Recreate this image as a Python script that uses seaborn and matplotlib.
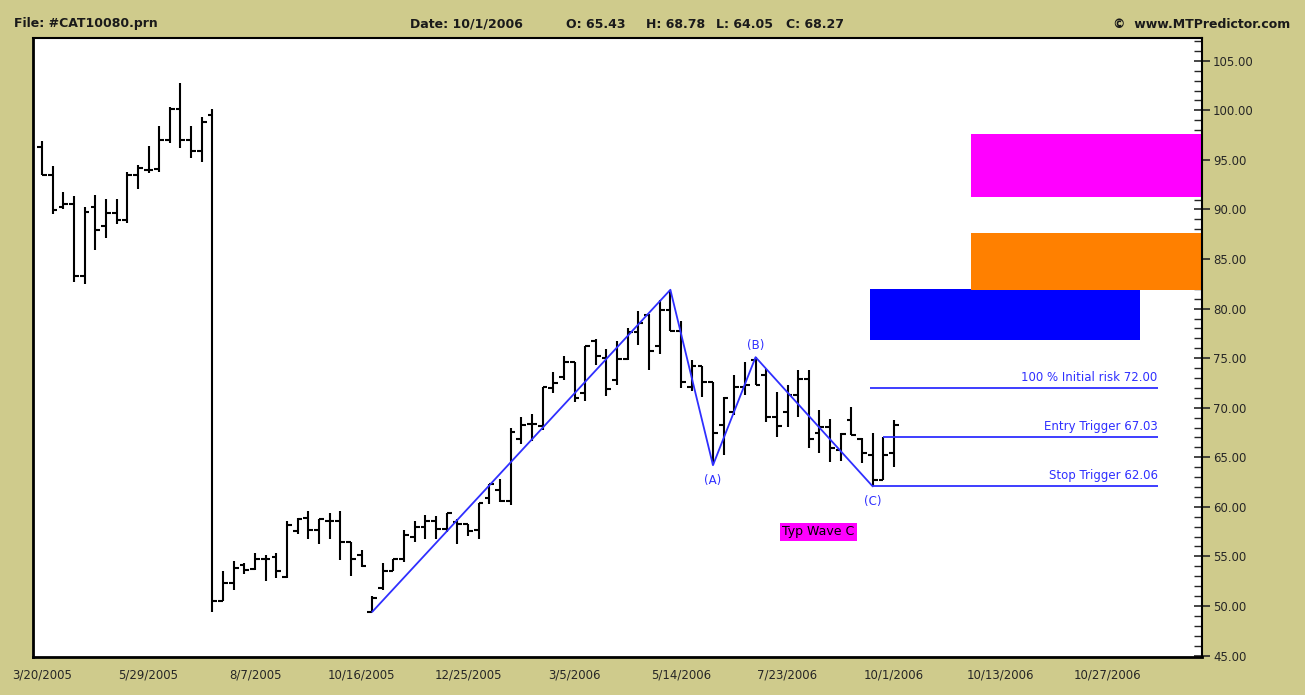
import matplotlib
matplotlib.use("Agg")
import matplotlib.pyplot as plt
from matplotlib.ticker import MultipleLocator, FixedLocator, FormatStrFormatter
import seaborn as sns
import numpy as np

# weekly OHLC bars, index 0 = 3/20/2005
opens = [96.3, 93.5, 90.2, 90.6, 83.3, 90.3, 88.3, 89.6, 88.9, 93.5,
         94.0, 94.1, 97.0, 100.1, 97.0, 95.9, 99.5, 50.5, 52.3, 54.1,
         53.7, 54.7, 54.9, 52.9, 57.6, 58.9, 57.7, 58.6, 58.6, 56.5,
         55.1, 49.4, 51.8, 53.5, 54.7, 57.0, 58.0, 58.6, 57.8, 58.5,
         58.3, 57.7, 60.9, 61.7, 60.6, 66.8, 68.4, 68.2, 72.0, 73.1,
         74.6, 71.5, 76.7, 75.0, 72.8, 74.9, 77.6, 79.4, 76.2, 79.9,
         77.7, 72.1, 74.2, 72.6, 68.3, 69.6, 72.1, 74.8, 73.3, 69.1,
         69.6, 71.3, 72.9, 67.4, 68.1, 65.7, 68.8, 66.8, 65.2, 62.7,
         65.43]
highs = [96.9, 94.4, 91.8, 91.4, 90.3, 91.5, 91.1, 91.1, 93.8, 94.5,
         96.4, 98.4, 100.3, 102.8, 98.4, 99.3, 100.1, 53.5, 54.5, 54.3,
         55.3, 55.1, 55.3, 58.6, 58.9, 59.6, 58.8, 59.4, 59.6, 56.5,
         55.6, 51.0, 54.3, 54.7, 57.7, 58.6, 59.2, 59.1, 59.4, 58.8,
         58.3, 60.4, 62.3, 62.8, 68.0, 69.1, 69.4, 72.1, 73.6, 75.2,
         74.6, 76.2, 76.9, 75.9, 76.7, 78.0, 79.8, 79.5, 80.9, 81.9,
         78.7, 74.8, 74.2, 72.6, 71.1, 73.3, 74.6, 75.1, 73.9, 71.6,
         72.3, 73.8, 73.8, 69.8, 68.9, 67.4, 70.1, 66.9, 67.4, 67.03,
         68.78]
lows = [93.5, 89.5, 90.0, 82.7, 82.5, 85.9, 87.1, 88.5, 88.6, 92.1,
        93.7, 93.8, 96.7, 96.2, 95.2, 94.8, 49.4, 50.5, 51.6, 53.2,
        53.6, 52.5, 52.8, 52.8, 57.3, 56.8, 56.2, 56.8, 54.6, 53.0,
        53.9, 49.4, 51.6, 53.5, 54.4, 56.5, 56.8, 56.8, 57.5, 56.3,
        57.1, 56.8, 60.3, 60.5, 60.2, 66.3, 66.6, 67.8, 71.5, 72.8,
        70.6, 70.7, 74.3, 71.2, 72.3, 74.8, 76.3, 73.8, 75.4, 77.7,
        72.0, 71.7, 71.1, 64.2, 65.2, 69.3, 71.3, 72.3, 68.6, 67.0,
        68.1, 69.1, 65.9, 65.4, 64.5, 64.6, 67.2, 64.4, 62.06, 62.7,
        64.05]
closes = [93.5, 89.9, 90.6, 83.3, 89.7, 87.9, 89.6, 88.9, 93.5, 94.2,
          94.0, 97.0, 100.1, 97.0, 95.9, 98.8, 50.5, 52.3, 53.8, 53.6,
          54.7, 54.7, 53.5, 58.2, 58.8, 57.7, 58.8, 58.6, 56.5, 54.7,
          54.0, 50.8, 53.5, 54.7, 57.2, 58.0, 58.6, 57.8, 59.4, 58.3,
          57.6, 60.4, 62.3, 60.6, 67.5, 68.3, 68.4, 72.1, 72.5, 74.6,
          71.0, 76.2, 75.2, 71.9, 74.9, 77.6, 78.5, 75.7, 79.9, 77.7,
          72.6, 74.2, 72.6, 67.4, 71.0, 72.1, 72.3, 72.3, 69.1, 68.2,
          71.3, 72.9, 66.8, 68.1, 65.9, 67.3, 67.2, 65.4, 62.7, 65.2,
          68.27]

tick_pos = [0, 10, 20, 30, 40, 50, 60, 70, 80, 90, 100]
tick_labels = ["3/20/2005", "5/29/2005", "8/7/2005", "10/16/2005", "12/25/2005",
               "3/5/2006", "5/14/2006", "7/23/2006", "10/1/2006", "10/13/2006",
               "10/27/2006"]

# ABC wave pivots
wave_x = [31, 59, 63, 67, 78]
wave_y = [49.4, 81.9, 64.2, 75.1, 62.06]
wave_names = ["", "", "(A)", "(B)", "(C)"]

# trade levels
level_prices = [72.00, 67.03, 62.06]
level_starts = [77.75, 79, 78]
level_labels = ["100 % Initial risk 72.00", "Entry Trigger 67.03", "Stop Trigger 62.06"]
level_end = 104.75

# target zones
zone_x0 = [77.75, 87.26, 87.26]
zone_x1 = [103.1, 108.92, 108.92]
zone_lo = [76.8, 81.9, 91.3]
zone_hi = [82.0, 87.6, 97.6]
zone_colors = ["#0000FF", "#FF8000", "#FF00FF"]

# header fields
header_items = ["Date: 10/1/2006", "O: 65.43", "H: 68.78", "L: 64.05", "C: 68.27"]
header_x = [410, 566, 646, 716, 786]

bg = "#CFCB8C"
blue = "#2F2FFF"

sns.set_style("white")
plt.rcParams["font.family"] = ["DejaVu Sans"]

fig = plt.figure(figsize=(13.05, 6.95), dpi=100, facecolor=bg)
ax = fig.add_axes([33 / 1305, 1 - 657 / 695, (1202 - 33) / 1305, (657 - 38) / 695])
ax.set_facecolor("white")

x = np.arange(len(opens))
ax.vlines(x, lows, highs, color="black", lw=1.5, zorder=3)
ax.hlines(opens, x - 0.45, x, color="black", lw=1.5, zorder=3)
ax.hlines(closes, x, x + 0.45, color="black", lw=1.5, zorder=3)

# zones
for x0, x1, lo, hi, c in zip(zone_x0, zone_x1, zone_lo, zone_hi, zone_colors):
    ax.fill_between([x0, x1], lo, hi, color=c, lw=0, zorder=1)

# wave
sns.lineplot(x=wave_x, y=wave_y, sort=False, estimator=None, color=blue, lw=1.3, ax=ax, zorder=4)
for wx, wy, name in zip(wave_x, wave_y, wave_names):
    if not name:
        continue
    if name == "(B)":
        ax.annotate(name, (wx, wy), xytext=(0, 4), textcoords="offset points",
                    ha="center", va="bottom", color=blue, fontsize=8.5)
    else:
        ax.annotate(name, (wx, wy), xytext=(0, -6), textcoords="offset points",
                    ha="center", va="top", color=blue, fontsize=8.5)

# levels
for p, s, lab in zip(level_prices, level_starts, level_labels):
    ax.hlines(p, s, level_end, color=blue, lw=1.3, zorder=4)
    ax.text(level_end, p + 0.4, lab, ha="right", va="bottom", color=blue, fontsize=8.5)

ax.text(72.9, 57.5, "Typ Wave C", ha="center", va="center", fontsize=9, color="black",
        bbox=dict(boxstyle="square,pad=0.2", fc="#FF00FF", ec="none"))

ax.set_xlim(-0.85, 108.92)

ax.xaxis.set_major_locator(FixedLocator(tick_pos))
ax.set_xticklabels(tick_labels, fontsize=8.5)
ax.tick_params(axis="x", direction="inout", length=12, width=1.2, color="black", pad=2)

ax.yaxis.tick_right()
ax.yaxis.set_major_locator(MultipleLocator(5))
ax.yaxis.set_minor_locator(MultipleLocator(1))
ax.yaxis.set_major_formatter(FormatStrFormatter("%.2f"))
ax.set_ylim(44.85, 107.3)
ax.tick_params(axis="y", which="major", direction="inout", length=12, width=1.2,
               labelsize=8.5, pad=2, right=True, left=False)
ax.tick_params(axis="y", which="minor", direction="in", length=6, width=1.0,
               right=True, left=False)

for side, lw in [("left", 2.0), ("bottom", 2.0), ("right", 1.5), ("top", 1.5)]:
    ax.spines[side].set_visible(True)
    ax.spines[side].set_color("black")
    ax.spines[side].set_linewidth(lw)

# header
hdr = dict(fontsize=9, fontweight="bold", va="center", color="#1a1a1a")
ty = 1 - 24 / 695
fig.text(14 / 1305, ty, "File: #CAT10080.prn", ha="left", **hdr)
for hx, item in zip(header_x, header_items):
    fig.text(hx / 1305, ty, item, ha="left", **hdr)
fig.text(1290 / 1305, ty, "\u00a9  www.MTPredictor.com", ha="right", **hdr)

fig.savefig("out.png", dpi=100, facecolor=bg)
